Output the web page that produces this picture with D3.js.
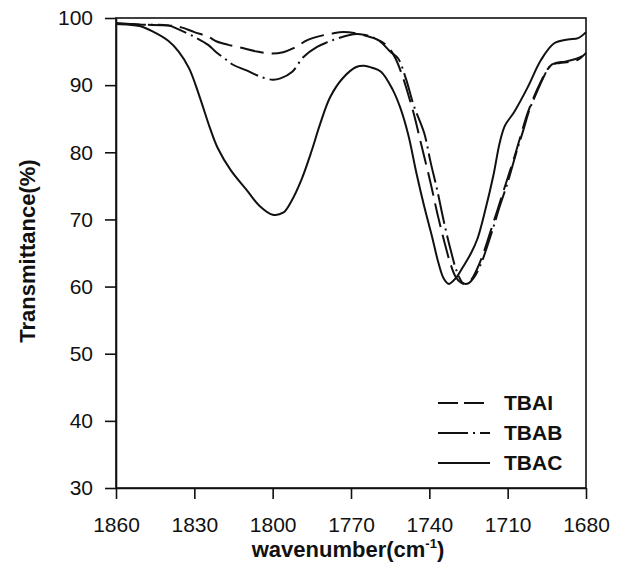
<!DOCTYPE html>
<html>
<head>
<meta charset="utf-8">
<script src="https://cdn.jsdelivr.net/npm/d3@7"></script>
<style>
  body { margin: 0; background: #fff; }
  text { font-family: "Liberation Sans", Arial, sans-serif; fill: #111; }
</style>
</head>
<body>
<script>
// wavenumber (cm-1) / transmittance (%)
let TbacWave = [1860, 1855, 1851, 1846, 1840, 1836, 1832, 1828, 1824, 1821, 1816, 1810, 1805, 1800, 1796, 1793, 1789, 1785, 1782, 1778, 1773, 1768, 1765, 1762, 1758.5, 1754, 1751, 1748, 1745, 1742, 1739, 1736.5, 1734.5, 1732.5, 1730, 1727, 1724, 1721.5, 1718.5, 1715.5, 1713, 1711, 1707.5, 1702.3, 1697.3, 1692.3, 1687, 1683, 1680];
let TbacT = [99.1, 99.0, 98.8, 98.0, 96.6, 95.0, 92.5, 88.3, 83.6, 80.6, 77.3, 74.4, 72.0, 70.7, 71.0, 72.6, 75.9, 80.3, 84.0, 88.2, 91.1, 92.7, 92.9, 92.6, 92.0, 89.3, 86.5, 82.5, 77.0, 72.0, 67.5, 63.5, 61.2, 60.4, 61.2, 63.0, 65.0, 67.2, 71.5, 76.5, 81.5, 84.0, 86.0, 89.7, 93.7, 96.2, 96.8, 97.0, 97.9];

let TbaiWave = [1860, 1850, 1840, 1835, 1830, 1824.7, 1821.4, 1817, 1812.4, 1806, 1800, 1796, 1792, 1786.7, 1782, 1777, 1773, 1768, 1764, 1760, 1756, 1753, 1750, 1748, 1746, 1743, 1739.5, 1737, 1734.4, 1732, 1730, 1728, 1726.5, 1724, 1721.5, 1719, 1716.5, 1714, 1711.3, 1707.5, 1705, 1702.4, 1700, 1697.3, 1695, 1693, 1690, 1686, 1683, 1680];
let TbaiT = [99.2, 99.0, 98.9, 98.6, 97.9, 97.2, 96.5, 96.0, 95.6, 95.0, 94.7, 94.9, 95.5, 96.7, 97.3, 97.7, 97.9, 97.7, 97.3, 96.8, 95.8, 94.0, 91.0, 88.5, 85.8, 81.0, 75.4, 71.0, 66.9, 63.5, 61.5, 60.6, 60.4, 61.0, 62.8, 65.3, 68.3, 71.3, 74.6, 79.2, 82.5, 85.8, 88.2, 90.5, 92.2, 93.1, 93.3, 93.5, 93.8, 94.8];

let TbabWave = [1860, 1850, 1840, 1836, 1830, 1824.7, 1821.6, 1818.2, 1815, 1810, 1805, 1800, 1797, 1792.5, 1788.2, 1783, 1779, 1774, 1768, 1765, 1762, 1758.5, 1755, 1752, 1749, 1746, 1742, 1739.5, 1737, 1734.5, 1731.8, 1729.5, 1727, 1725, 1722.5, 1720, 1718, 1715.5, 1713, 1710, 1706.5, 1704, 1701.5, 1699, 1696.5, 1694, 1691.5, 1688, 1684, 1680];
let TbabT = [99.2, 99.0, 98.9, 98.3, 97.2, 96.0, 94.9, 93.9, 93.0, 92.2, 91.3, 90.8, 91.0, 92.0, 94.2, 95.7, 96.4, 97.1, 97.6, 97.5, 97.2, 96.4, 95.0, 94.0, 91.0, 87.0, 82.9, 78.5, 74.4, 69.8, 65.4, 62.3, 60.5, 60.5, 61.6, 63.6, 65.8, 68.8, 72.0, 75.5, 80.2, 83.3, 86.5, 88.8, 91.0, 92.7, 93.3, 93.5, 93.9, 94.6];

let SeriesNames = ["TBAI", "TBAB", "TBAC"];
let XTicks = [1860, 1830, 1800, 1770, 1740, 1710, 1680];
let YTicks = [30, 40, 50, 60, 70, 80, 90, 100];

let SvgWidth = 626;
let SvgHeight = 583;
let Margin = { Top: 18, Right: 40, Bottom: 95, Left: 116 };
let ChartWidth = SvgWidth - Margin.Left - Margin.Right;
let ChartHeight = SvgHeight - Margin.Top - Margin.Bottom;

let Svg = d3.select("body")
    .append("svg")
    .attr("width", SvgWidth)
    .attr("height", SvgHeight);

let ChartGroup = Svg.append("g")
    .attr("transform", `translate(${Margin.Left},${Margin.Top})`);

let xScale = d3.scaleLinear().domain([1860, 1680]).range([0, ChartWidth]);
let yScale = d3.scaleLinear().domain([30, 100]).range([ChartHeight, 0]);

let Dashes = { TBAI: "24,8", TBAB: "30,5,2,5", TBAC: null };
let Series = [
    { name: "TBAI", w: TbaiWave, t: TbaiT },
    { name: "TBAB", w: TbabWave, t: TbabT },
    { name: "TBAC", w: TbacWave, t: TbacT }
];

// frame
ChartGroup.append("rect")
    .attr("width", ChartWidth)
    .attr("height", ChartHeight)
    .attr("fill", "none")
    .attr("stroke", "#111")
    .attr("stroke-width", 1.6);

let LeftAxis = d3.axisLeft(yScale).tickValues(YTicks).tickSize(11).tickPadding(12).tickSizeOuter(0);
let BottomAxis = d3.axisBottom(xScale).tickValues(XTicks).tickFormat(d3.format("d")).tickSize(11).tickPadding(18).tickSizeOuter(0);

let yAxisG = ChartGroup.append("g").call(LeftAxis);
let xAxisG = ChartGroup.append("g").attr("transform", `translate(0,${ChartHeight})`).call(BottomAxis);

[yAxisG, xAxisG].forEach(g => {
    g.selectAll("path, line").attr("stroke", "#111").attr("stroke-width", 1.6);
    g.selectAll("text").attr("font-size", 21).attr("fill", "#111")
        .attr("font-family", "'Liberation Sans', Arial, sans-serif");
});

let Line = d3.line()
    .x(d => xScale(d[0]))
    .y(d => yScale(d[1]))
    .curve(d3.curveCatmullRom.alpha(0.5));

Series.forEach(s => {
    ChartGroup.append("path")
        .datum(s.w.map((w, i) => [w, s.t[i]]))
        .attr("d", Line)
        .attr("fill", "none")
        .attr("stroke", "#111")
        .attr("stroke-width", 2)
        .attr("stroke-dasharray", Dashes[s.name]);
});

// legend
let Legend = Svg.append("g");
SeriesNames.forEach((name, i) => {
    let y = 403 + i * 30;
    Legend.append("line")
        .attr("x1", 438).attr("x2", 490)
        .attr("y1", y).attr("y2", y)
        .attr("stroke", "#111")
        .attr("stroke-width", 2)
        .attr("stroke-dasharray", name == "TBAI" ? "20,6" : Dashes[name]);
    Legend.append("text")
        .attr("x", 504)
        .attr("y", y + 7)
        .attr("font-size", 21)
        .attr("font-weight", "bold")
        .text(name);
});

// axis titles
let XTitle = Svg.append("text")
    .attr("x", 348)
    .attr("y", 557)
    .attr("text-anchor", "middle")
    .attr("font-size", 22)
    .attr("font-weight", "bold");
XTitle.append("tspan").text("wavenumber(cm");
XTitle.append("tspan").attr("font-size", 13).attr("dy", -9).text("-1");
XTitle.append("tspan").attr("dy", 9).text(")");

Svg.append("text")
    .attr("transform", "translate(35,251) rotate(-90)")
    .attr("text-anchor", "middle")
    .attr("font-size", 22)
    .attr("font-weight", "bold")
    .text("Transmittance(%)");
</script>
</body>
</html>
